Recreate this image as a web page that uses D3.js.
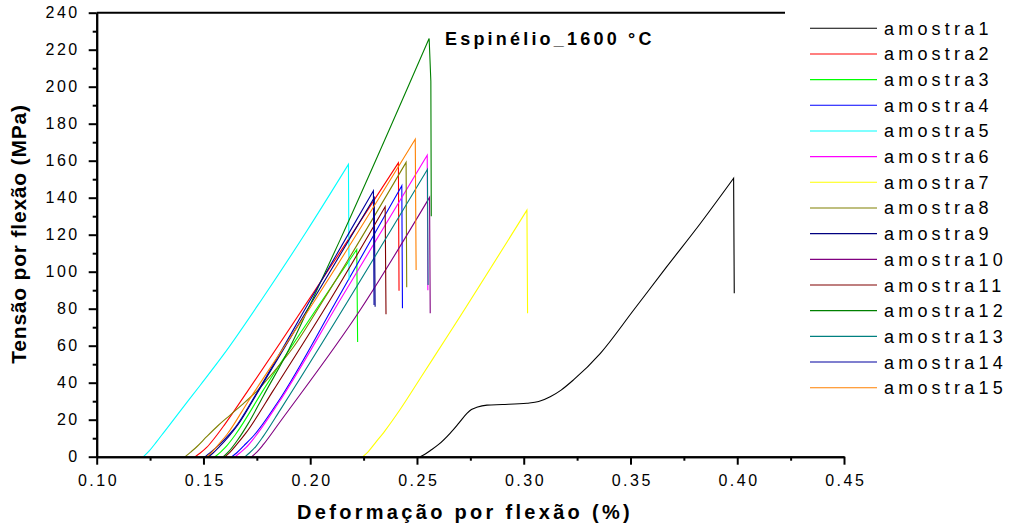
<!DOCTYPE html>
<html><head><meta charset="utf-8">
<script src="https://cdn.jsdelivr.net/npm/d3@7"></script>
<style>
html,body{margin:0;padding:0;background:#fff;}
svg text{font-family:"Liberation Sans",Arial,sans-serif;fill:#000;}
</style></head>
<body>
<svg id="chart" width="1011" height="531"></svg>
<script>
// ---- data: [strain %, stress MPa]; points after the maximum form the fracture drop
const amostra1 = [[0.2515,0],[0.2535,1.2],[0.2566,3.6],[0.26,6.5],[0.2656,12.8],[0.2695,18],[0.2734,23.4],[0.2755,25.5],[0.278,26.7],[0.2828,27.9],[0.29,28.2],[0.3015,28.9],[0.307,29.8],[0.3124,32.4],[0.3175,36],[0.3233,41.5],[0.3359,55.9],[0.3515,79.3],[0.367,102.7],[0.3828,126.2],[0.3983,150.5],[0.3986,88.3]];
const amostra2 = [[0.1461,0],[0.1485,2],[0.1515,5],[0.1555,10.5],[0.16,17.5],[0.171,36],[0.2413,158.9],[0.2416,89.7]];
const amostra3 = [[0.1554,0],[0.158,2.5],[0.161,6],[0.165,12],[0.178,36],[0.2218,112],[0.2222,62]];
const amostra4 = [[0.1633,0],[0.1655,2],[0.169,6],[0.174,12],[0.1851,30],[0.2125,84.7],[0.2429,146.5],[0.2432,80.2]];
const amostra5 = [[0.1219,0],[0.1245,3],[0.128,8],[0.132,14],[0.139,24.5],[0.1484,38.5],[0.1593,55],[0.1773,85],[0.1984,122],[0.2179,158],[0.2182,95.5]];
const amostra6 = [[0.1648,0],[0.167,2],[0.17,5],[0.174,10.5],[0.1851,29],[0.214,84.7],[0.2548,162.9],[0.2551,90]];
const amostra7 = [[0.2246,0],[0.227,2.5],[0.2305,7.5],[0.235,14],[0.2421,25.5],[0.253,45],[0.2656,67.5],[0.3015,133.3],[0.3018,77.5]];
const amostra8 = [[0.1414,0],[0.144,2.5],[0.147,5.5],[0.1515,10.8],[0.157,17],[0.1625,22.5],[0.168,28],[0.175,35.5],[0.183,46],[0.192,59],[0.2062,84.7],[0.2449,159.1],[0.2452,91.6]];
const amostra9 = [[0.1523,0],[0.1545,2],[0.1575,5.5],[0.1615,10.5],[0.166,17],[0.176,36],[0.201,84],[0.23,140],[0.2304,81]];
const amostra10 = [[0.1726,0],[0.175,2.5],[0.178,6.5],[0.1859,18.9],[0.2234,79.3],[0.2559,140.2],[0.2562,77.5]];
const amostra11 = [[0.16,0],[0.1625,2.5],[0.1655,6.5],[0.17,13],[0.1828,36],[0.2093,84.7],[0.2351,135.1],[0.2355,77]];
const amostra12 = [[0.1593,0],[0.162,3],[0.166,9],[0.171,18],[0.1781,33],[0.19,58],[0.1999,82],[0.214,117.2],[0.2557,226.1],[0.2565,203],[0.2567,130]];
const amostra13 = [[0.1695,0],[0.1715,2],[0.1745,5.5],[0.178,11],[0.1859,25.2],[0.2549,155.3],[0.2552,92.8]];
const amostra14 = [[0.1508,0],[0.153,2],[0.156,5],[0.16,9.5],[0.165,16],[0.175,34.6],[0.2007,86],[0.2296,143.8],[0.2299,82]];
const amostra15 = [[0.1515,0],[0.154,2.5],[0.157,6.5],[0.161,12],[0.171,30],[0.2023,84.7],[0.2492,171.6],[0.2496,100.9]];

const seriesNames = ["amostra1","amostra2","amostra3","amostra4","amostra5","amostra6","amostra7","amostra8","amostra9","amostra10","amostra11","amostra12","amostra13","amostra14","amostra15"];
const seriesData = [amostra1,amostra2,amostra3,amostra4,amostra5,amostra6,amostra7,amostra8,amostra9,amostra10,amostra11,amostra12,amostra13,amostra14,amostra15];
const seriesColors = ["#000000","#FF0000","#00FF00","#0000FF","#00FFFF","#FF00FF","#FFFF00","#808000","#000080","#800080","#800000","#008000","#008080","#0000A0","#FF8000"];

const xMajor = [0.10,0.15,0.20,0.25,0.30,0.35,0.40,0.45];
const xMinor = [0.125,0.175,0.225,0.275,0.325,0.375,0.425];
const yMajor = [0,20,40,60,80,100,120,140,160,180,200,220,240];
const yMinor = [10,30,50,70,90,110,130,150,170,190,210,230];

const titleText = "Espinélio_1600 °C";
const xTitle = "Deformação por flexão (%)";
const yTitle = "Tensão por flexão (MPa)";

// ---- layout
const svg = d3.select("#chart");
const x = d3.scaleLinear().domain([0.10,0.45]).range([96.7,844]);
const y = d3.scaleLinear().domain([0,240]).range([456.7,12.7]);

// data lines: smooth rise up to the maximum, straight fracture drop after it
const riseGen = d3.line().x(d=>x(d[0])).y(d=>y(d[1])).curve(d3.curveMonotoneX);
const gLines = svg.append("g");
seriesData.forEach((pts,i)=>{
  const peak = d3.maxIndex(pts, d=>d[1]);
  let d = riseGen(pts.slice(0,peak+1));
  pts.slice(peak+1).forEach(p=>{ d += "L" + x(p[0]) + "," + y(p[1]); });
  gLines.append("path").attr("d",d).attr("fill","none")
    .attr("stroke",seriesColors[i]).attr("stroke-width",1.1);
});

// axes
const axisColor = "#000";
const gx = svg.append("g").attr("transform",`translate(0,${y(0)})`);
gx.call(d3.axisBottom(x).tickValues(xMajor).tickFormat(d3.format(".2f")).tickSize(8).tickPadding(9.6).tickSizeOuter(0));
const gxm = svg.append("g").attr("transform",`translate(0,${y(0)})`);
gxm.call(d3.axisBottom(x).tickValues(xMinor).tickFormat("").tickSize(4).tickSizeOuter(0));
const gy = svg.append("g").attr("transform",`translate(${x(0.10)},0)`);
gy.call(d3.axisLeft(y).tickValues(yMajor).tickSize(8).tickPadding(9).tickSizeOuter(0));
const gym = svg.append("g").attr("transform",`translate(${x(0.10)},0)`);
gym.call(d3.axisLeft(y).tickValues(yMinor).tickFormat("").tickSize(4).tickSizeOuter(0));

[gx,gxm,gy,gym].forEach(g=>{
  g.selectAll("path.domain").attr("stroke",axisColor).attr("stroke-width",2);
  g.selectAll(".tick line").attr("stroke",axisColor).attr("stroke-width",2);
  g.selectAll(".tick text").attr("font-size","16px").attr("letter-spacing","2.5px")
    .attr("font-family","Liberation Sans, Arial, sans-serif").attr("fill","#000");
});
gx.selectAll(".tick text").attr("dx","1.25");
// top frame line
svg.append("line").attr("x1",x(0.10)).attr("x2",785).attr("y1",y(240)).attr("y2",y(240))
  .attr("stroke","#000").attr("stroke-width",2);

// titles
svg.append("text").attr("x",445).attr("y",44.5).attr("font-size","18px").attr("font-weight","bold")
  .attr("letter-spacing","3.2px").text(titleText);
svg.append("text").attr("x",465).attr("y",519).attr("text-anchor","middle").attr("font-size","20px")
  .attr("font-weight","bold").attr("letter-spacing","3.3px").text(xTitle);
svg.append("text").attr("transform","translate(26,234) rotate(-90)").attr("text-anchor","middle")
  .attr("font-size","21px").attr("font-weight","bold").attr("letter-spacing","0.8px").text(yTitle);

// legend
const gLeg = svg.append("g");
seriesNames.forEach((n,i)=>{
  const yy = 28.3 + i*25.67;
  gLeg.append("line").attr("x1",810).attr("x2",877).attr("y1",yy).attr("y2",yy)
    .attr("stroke",seriesColors[i]).attr("stroke-width",1.1);
  gLeg.append("text").attr("x",884).attr("y",yy+6.5).attr("font-size","18px")
    .attr("letter-spacing","4.2px").text(n);
});
</script>
</body></html>
